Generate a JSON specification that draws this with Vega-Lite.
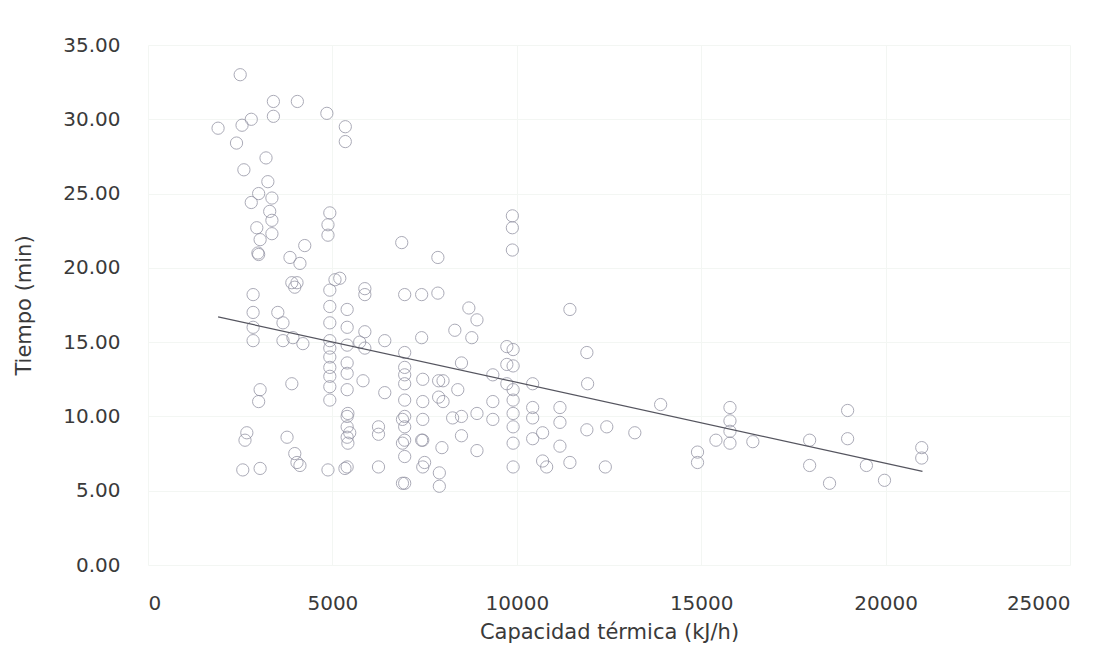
{
  "$schema": "https://vega.github.io/schema/vega-lite/v6.json",
  "width": 922,
  "height": 520,
  "autosize": "none",
  "padding": {"left": 148, "top": 45, "right": 48, "bottom": 88},
  "background": "white",
  "config": {
    "view": {"stroke": null},
    "axis": {"domain": false, "ticks": false, "grid": true, "gridColor": "#f3f6f3", "gridWidth": 1, "labelFont": "DejaVu Sans", "labelFontSize": 20, "labelColor": "#3a3a3a", "titleFont": "DejaVu Sans", "titleFontSize": 21, "titleFontWeight": "normal", "titleColor": "#3a3a3a"}
  },
  "datasets": {
    "pts": [
      {"cap": 1900, "t": 29.4}, {"cap": 2500, "t": 33.0}, {"cap": 2550, "t": 29.6}, {"cap": 2400, "t": 28.4}, {"cap": 2800, "t": 30.0},
      {"cap": 3400, "t": 31.2}, {"cap": 4050, "t": 31.2}, {"cap": 3400, "t": 30.2}, {"cap": 4850, "t": 30.4}, {"cap": 5350, "t": 29.5},
      {"cap": 5350, "t": 28.5}, {"cap": 3200, "t": 27.4}, {"cap": 2600, "t": 26.6}, {"cap": 3250, "t": 25.8}, {"cap": 3360, "t": 24.7},
      {"cap": 2800, "t": 24.4}, {"cap": 3360, "t": 23.2}, {"cap": 2950, "t": 22.7}, {"cap": 3360, "t": 22.3}, {"cap": 3040, "t": 21.9},
      {"cap": 3000, "t": 20.9}, {"cap": 4880, "t": 22.9}, {"cap": 4880, "t": 22.2}, {"cap": 4930, "t": 23.7}, {"cap": 4250, "t": 21.5},
      {"cap": 3850, "t": 20.7}, {"cap": 4120, "t": 20.3}, {"cap": 3900, "t": 19.0}, {"cap": 3980, "t": 18.7}, {"cap": 2850, "t": 18.2},
      {"cap": 2850, "t": 17.0}, {"cap": 2850, "t": 15.1}, {"cap": 3520, "t": 17.0}, {"cap": 3660, "t": 16.3}, {"cap": 3930, "t": 15.3},
      {"cap": 5070, "t": 19.2}, {"cap": 4930, "t": 18.5}, {"cap": 4930, "t": 17.4}, {"cap": 4930, "t": 16.3}, {"cap": 4930, "t": 15.1},
      {"cap": 4930, "t": 14.0}, {"cap": 4930, "t": 12.7}, {"cap": 5400, "t": 11.8}, {"cap": 5420, "t": 10.2}, {"cap": 5470, "t": 8.9},
      {"cap": 5420, "t": 8.2}, {"cap": 5880, "t": 18.6}, {"cap": 5880, "t": 15.7}, {"cap": 5740, "t": 15.0}, {"cap": 3900, "t": 12.2},
      {"cap": 3040, "t": 11.8}, {"cap": 2680, "t": 8.9}, {"cap": 2570, "t": 6.4}, {"cap": 3040, "t": 6.5}, {"cap": 3980, "t": 7.5},
      {"cap": 4120, "t": 6.7}, {"cap": 4880, "t": 6.4}, {"cap": 5340, "t": 6.5}, {"cap": 3000, "t": 11.0}, {"cap": 2630, "t": 8.4},
      {"cap": 6880, "t": 21.7}, {"cap": 7860, "t": 20.7}, {"cap": 5200, "t": 19.3}, {"cap": 5880, "t": 18.2}, {"cap": 6960, "t": 18.2},
      {"cap": 7420, "t": 18.2}, {"cap": 7860, "t": 18.3}, {"cap": 5400, "t": 17.2}, {"cap": 5880, "t": 14.6}, {"cap": 6420, "t": 15.1},
      {"cap": 7420, "t": 15.3}, {"cap": 4930, "t": 13.3}, {"cap": 4930, "t": 11.1}, {"cap": 5400, "t": 16.0}, {"cap": 5400, "t": 14.8},
      {"cap": 5400, "t": 12.9}, {"cap": 5830, "t": 12.4}, {"cap": 6420, "t": 11.6}, {"cap": 5400, "t": 10.0}, {"cap": 5400, "t": 8.6},
      {"cap": 6250, "t": 9.3}, {"cap": 6250, "t": 8.8}, {"cap": 5400, "t": 6.6}, {"cap": 6250, "t": 6.6}, {"cap": 6960, "t": 14.3},
      {"cap": 6960, "t": 13.3}, {"cap": 6960, "t": 12.2}, {"cap": 6960, "t": 11.1}, {"cap": 6960, "t": 10.0}, {"cap": 6960, "t": 8.4},
      {"cap": 6960, "t": 7.3}, {"cap": 6960, "t": 5.5}, {"cap": 7420, "t": 8.4}, {"cap": 7500, "t": 6.9}, {"cap": 7900, "t": 6.2},
      {"cap": 7880, "t": 11.3}, {"cap": 7880, "t": 12.4}, {"cap": 8500, "t": 10.0}, {"cap": 8920, "t": 16.5}, {"cap": 8780, "t": 15.3},
      {"cap": 9730, "t": 14.7}, {"cap": 9730, "t": 13.5}, {"cap": 9730, "t": 12.2}, {"cap": 8000, "t": 12.4}, {"cap": 8400, "t": 11.8},
      {"cap": 8500, "t": 13.6}, {"cap": 10430, "t": 12.2}, {"cap": 10430, "t": 10.6}, {"cap": 9350, "t": 9.8}, {"cap": 8920, "t": 10.2},
      {"cap": 8260, "t": 9.9}, {"cap": 7450, "t": 9.8}, {"cap": 6900, "t": 9.8}, {"cap": 6900, "t": 8.2}, {"cap": 7450, "t": 8.4},
      {"cap": 7450, "t": 6.6}, {"cap": 7970, "t": 7.9}, {"cap": 8920, "t": 7.7}, {"cap": 9900, "t": 8.2}, {"cap": 9900, "t": 6.6},
      {"cap": 10700, "t": 7.0}, {"cap": 6900, "t": 5.5}, {"cap": 7900, "t": 5.3}, {"cap": 9880, "t": 23.5}, {"cap": 9880, "t": 22.7},
      {"cap": 9880, "t": 21.2}, {"cap": 11440, "t": 17.2}, {"cap": 11900, "t": 14.3}, {"cap": 9900, "t": 14.5}, {"cap": 9900, "t": 13.4},
      {"cap": 11920, "t": 12.2}, {"cap": 9900, "t": 11.8}, {"cap": 9900, "t": 11.1}, {"cap": 11170, "t": 10.6}, {"cap": 10430, "t": 9.9},
      {"cap": 9900, "t": 9.3}, {"cap": 12440, "t": 9.3}, {"cap": 13200, "t": 8.9}, {"cap": 10700, "t": 8.9}, {"cap": 11900, "t": 9.1},
      {"cap": 10810, "t": 6.6}, {"cap": 11440, "t": 6.9}, {"cap": 12400, "t": 6.6}, {"cap": 13900, "t": 10.8}, {"cap": 15780, "t": 10.6},
      {"cap": 15780, "t": 9.7}, {"cap": 15780, "t": 8.2}, {"cap": 15400, "t": 8.4}, {"cap": 16400, "t": 8.3}, {"cap": 14900, "t": 7.6},
      {"cap": 14900, "t": 6.9}, {"cap": 17940, "t": 8.4}, {"cap": 17940, "t": 6.7}, {"cap": 18970, "t": 10.4}, {"cap": 18970, "t": 8.5},
      {"cap": 19480, "t": 6.7}, {"cap": 18480, "t": 5.5}, {"cap": 19970, "t": 5.7}, {"cap": 20980, "t": 7.9}, {"cap": 20980, "t": 7.2},
      {"cap": 8700, "t": 17.3}, {"cap": 8320, "t": 15.8}, {"cap": 4200, "t": 14.9}, {"cap": 3660, "t": 15.1}, {"cap": 3770, "t": 8.6},
      {"cap": 4040, "t": 6.9}, {"cap": 4040, "t": 19.0}, {"cap": 2980, "t": 21.0},
      {"cap": 3300, "t": 23.8}, {"cap": 3000, "t": 25.0}, {"cap": 2850, "t": 16.0}, {"cap": 4930, "t": 14.6}, {"cap": 4930, "t": 12.0},
      {"cap": 5400, "t": 13.6}, {"cap": 5400, "t": 9.3}, {"cap": 6960, "t": 12.8}, {"cap": 6960, "t": 9.3}, {"cap": 7450, "t": 11.0},
      {"cap": 7450, "t": 12.5}, {"cap": 8000, "t": 11.0}, {"cap": 8500, "t": 8.7}, {"cap": 9350, "t": 11.0}, {"cap": 9900, "t": 10.2},
      {"cap": 10430, "t": 8.5}, {"cap": 11170, "t": 9.6}, {"cap": 11170, "t": 8.0}, {"cap": 9350, "t": 12.8}, {"cap": 15780, "t": 9.0}
    ],
    "trend": [
      {"cap": 1900, "t": 16.7},
      {"cap": 21000, "t": 6.3}
    ]
  },
  "layer": [
    {
      "data": {"name": "pts"},
      "mark": {"type": "point", "shape": "circle", "filled": false, "size": 150, "stroke": "#8f8fa0", "strokeWidth": 1, "opacity": 0.75},
      "encoding": {
        "x": {"field": "cap", "type": "quantitative", "scale": {"domain": [0, 25000], "nice": false}, "axis": {"values": [0, 5000, 10000, 15000, 20000, 25000], "format": "d", "labelPadding": 28, "title": "Capacidad térmica (kJ/h)", "titlePadding": 8}},
        "y": {"field": "t", "type": "quantitative", "scale": {"domain": [0, 35], "nice": false}, "axis": {"values": [0, 5, 10, 15, 20, 25, 30, 35], "format": ".2f", "labelPadding": 28, "title": "Tiempo (min)", "titlePadding": 28}}
      }
    },
    {
      "data": {"name": "trend"},
      "mark": {"type": "line", "color": "#55555f", "strokeWidth": 1.2},
      "encoding": {
        "x": {"field": "cap", "type": "quantitative"},
        "y": {"field": "t", "type": "quantitative"}
      }
    }
  ]
}
